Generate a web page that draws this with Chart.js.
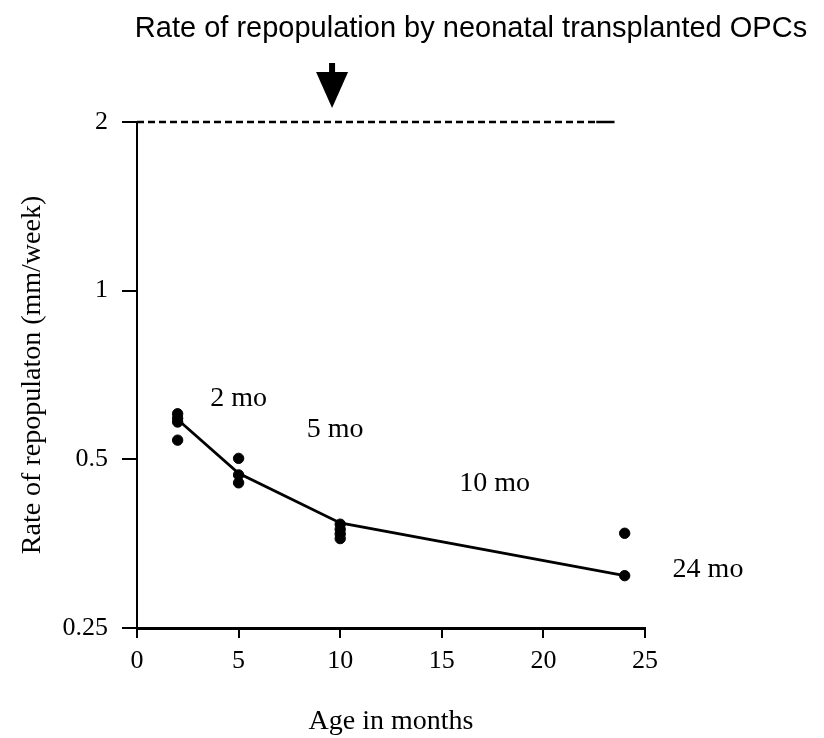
<!DOCTYPE html>
<html><head><meta charset="utf-8">
<script src="https://cdn.jsdelivr.net/npm/chart.js@4"></script>
<style>html,body{margin:0;padding:0;background:#fff}#wrap{width:824px;height:738px;position:relative}</style>
</head><body><div id="wrap"><canvas id="c"></canvas></div>
<script>
// ---- data ----
const ageMonths = [2, 5, 10, 24];
const rate2mo  = [0.603, 0.592, 0.583, 0.541];
const rate5mo  = [0.502, 0.469, 0.454];
const rate10mo = [0.383, 0.375, 0.368, 0.361];
const rate24mo = [0.369, 0.310];
const meanRate = [0.589, 0.472, 0.385, 0.310];
const yTickValues = [0.25, 0.5, 1, 2];
const xTickValues = [0, 5, 10, 15, 20, 25];
const ageLabels = ['2 mo', '5 mo', '10 mo', '24 mo'];
const neonatalRate = 2;      // dashed reference level
const refLineEnd = 23.5;     // months
const arrowAge = 9.6;        // months
const titleText = 'Rate of repopulation by neonatal transplanted OPCs';

const individual = [rate2mo, rate5mo, rate10mo, rate24mo];
const scatterPts = [];
individual.forEach((arr, i) => arr.forEach(v => scatterPts.push({x: ageMonths[i], y: v})));
const meanPts = ageMonths.map((a, i) => ({x: a, y: meanRate[i]}));

// label anchors (data coordinates)
const labelAnchors = [
  {x: 5.0, y: 0.641}, {x: 9.75, y: 0.565}, {x: 17.6, y: 0.453}, {x: 28.1, y: 0.318}
];

const serif = '"Liberation Serif", "DejaVu Serif", serif';
const sans = '"Liberation Sans", Arial, sans-serif';

const overlay = {
  id: 'overlay',
  afterDraw(chart) {
    const ctx = chart.ctx, xs = chart.scales.x, ys = chart.scales.y;
    ctx.save();
    ctx.fillStyle = '#000';
    // title
    ctx.font = '29px ' + sans;
    ctx.textAlign = 'center'; ctx.textBaseline = 'middle';
    ctx.fillText(titleText, 471, 29);
    // arrow
    const ax = xs.getPixelForValue(arrowAge);
    ctx.fillRect(ax - 3, 63, 6, 10);
    ctx.beginPath();
    ctx.moveTo(ax - 16, 72); ctx.lineTo(ax + 16, 72); ctx.lineTo(ax, 108); ctx.closePath();
    ctx.fill();
    // labels
    ctx.font = '28px ' + serif;
    ageLabels.forEach((t, i) => {
      ctx.fillText(t, xs.getPixelForValue(labelAnchors[i].x), ys.getPixelForValue(labelAnchors[i].y));
    });
    ctx.restore();
  }
};

new Chart(document.getElementById('c'), {
  type: 'scatter',
  data: {
    datasets: [
      { data: [{x: 0, y: neonatalRate}, {x: refLineEnd - 0.9, y: neonatalRate}], showLine: true, clip: false,
        borderColor: '#000', borderWidth: 2.5, borderDash: [7, 4], pointRadius: 0 },
      { data: [{x: refLineEnd - 0.9, y: neonatalRate}, {x: refLineEnd, y: neonatalRate}], showLine: true, clip: false,
        borderColor: '#000', borderWidth: 2.5, pointRadius: 0 },
      { data: meanPts, showLine: true, borderColor: '#000', borderWidth: 2.8, pointRadius: 0 },
      { data: scatterPts, backgroundColor: '#000', borderColor: '#000', pointRadius: 5.2, showLine: false }
    ]
  },
  options: {
    responsive: true, maintainAspectRatio: false, animation: false,
    layout: { padding: { left: 16, top: 122, right: 179, bottom: 0 } },
    plugins: { legend: { display: false }, tooltip: { enabled: false } },
    scales: {
      x: {
        type: 'linear', min: 0, max: 25,
        afterBuildTicks: s => { s.ticks = xTickValues.map(v => ({value: v})); },
        afterFit: s => { s.height = 110; },
        border: { display: true, color: '#000', width: 3 },
        grid: { drawOnChartArea: false, drawTicks: true, tickLength: 10, color: '#000', lineWidth: 2 },
        ticks: { color: '#000', font: { family: serif, size: 26 }, padding: 8, maxRotation: 0 },
        title: { display: true, text: 'Age in months', color: '#000', font: { family: serif, size: 28 }, padding: { top: 10, bottom: 0 } }
      },
      y: {
        type: 'logarithmic', min: 0.25, max: 2,
        afterBuildTicks: s => { s.ticks = yTickValues.map(v => ({value: v})); },
        afterFit: s => { s.width = 121; },
        border: { display: true, color: '#000', width: 2 },
        grid: { drawOnChartArea: false, drawTicks: true, tickLength: 15, color: '#000', lineWidth: 2 },
        ticks: { color: '#000', font: { family: serif, size: 26 }, padding: 14, callback: v => String(v) },
        title: { display: true, text: 'Rate of repopulaton (mm/week)', color: '#000', font: { family: serif, size: 28 }, padding: 0 }
      }
    }
  },
  plugins: [overlay]
});
</script>
</body></html>
